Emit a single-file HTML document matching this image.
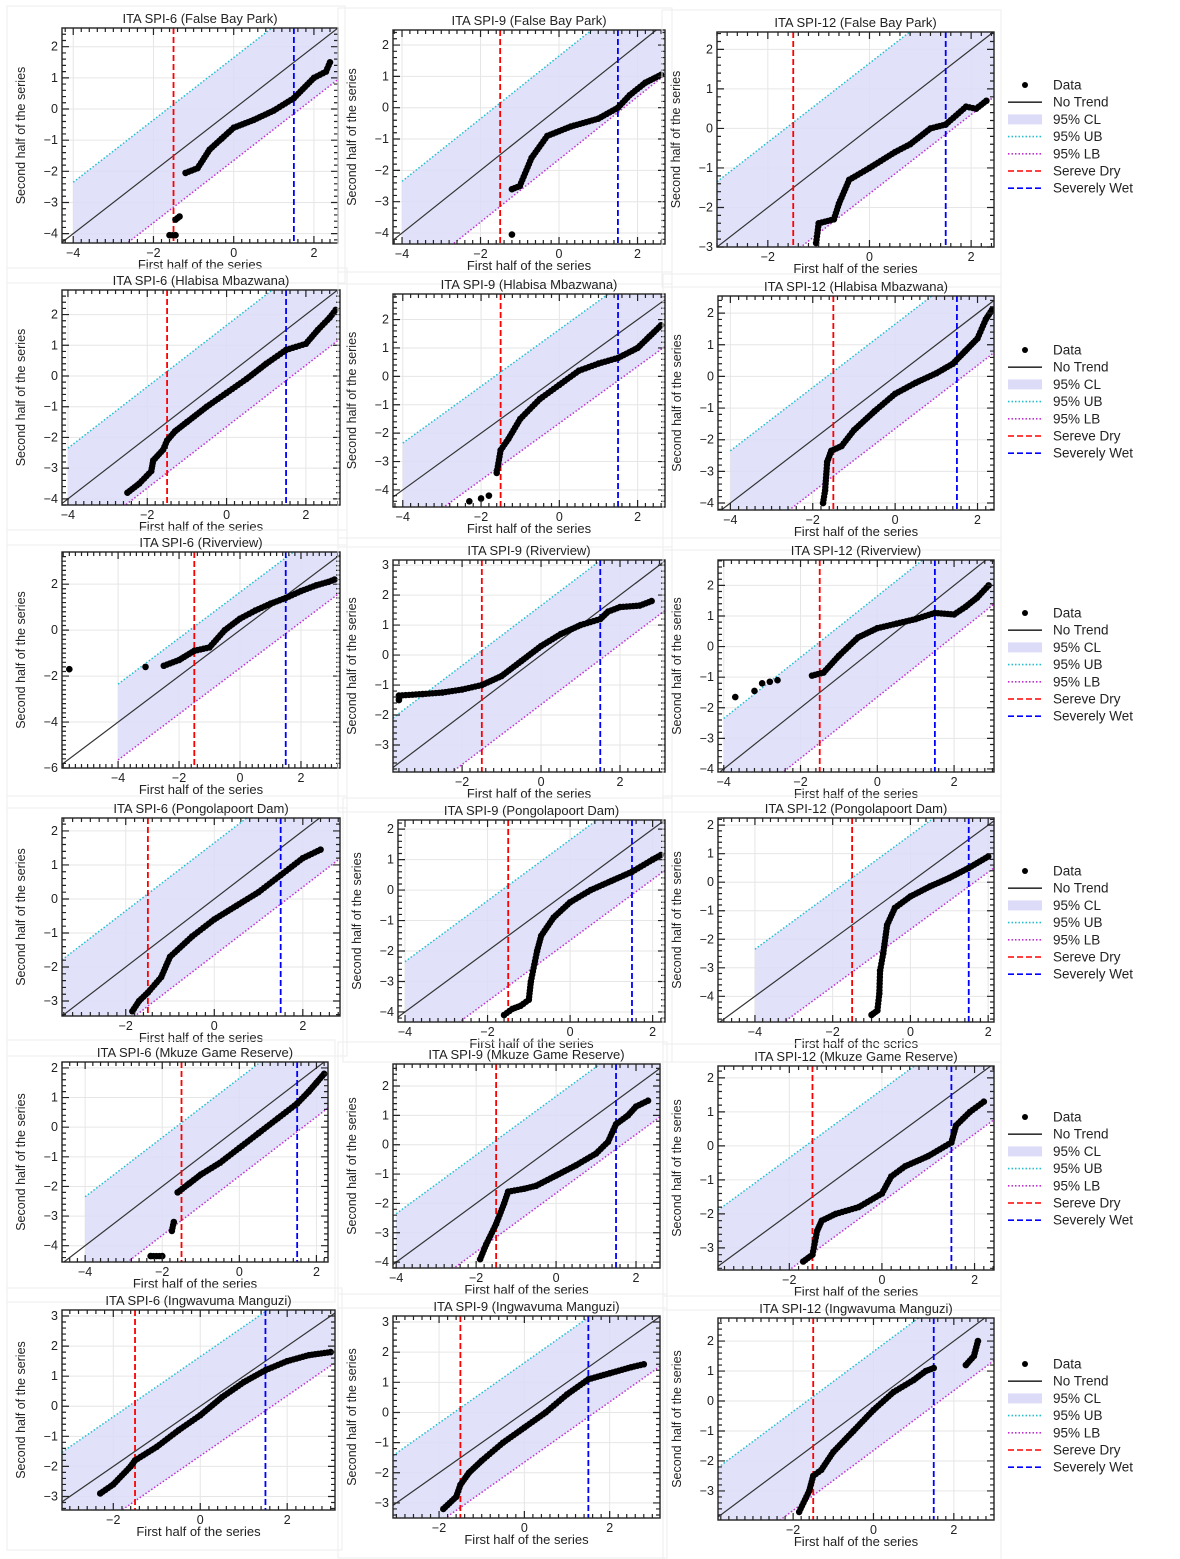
<!DOCTYPE html>
<html><head><meta charset="utf-8"><style>
body{margin:0;background:#fff}
svg{display:block;font-family:"Liberation Sans","DejaVu Sans",sans-serif}
</style></head><body>
<svg id="s" width="1180" height="1559" xmlns="http://www.w3.org/2000/svg"></svg>
<script>
const P=[
{t:"ITA SPI-6 (False Bay Park)",b:[62,28,338,243],x:[-4.28,2.6],y:[-4.3,2.6],c0:[[-1.6,-4.05],[-1.45,-4.05]],d2:[[-1.45,-3.55],[-1.35,-3.45]],c:[[-1.2,-2.05],[-0.9,-1.9],[-0.6,-1.3],[-0.3,-0.95],[0,-0.6],[0.5,-0.35],[1,-0.05],[1.5,0.35],[2,1.0],[2.3,1.2],[2.4,1.5]]},
{t:"ITA SPI-9 (False Bay Park)",b:[393,30,665,244],x:[-4.23,2.7],y:[-4.35,2.48],d:[[-1.2,-4.05]],c:[[-1.2,-2.6],[-1,-2.5],[-0.7,-1.6],[-0.3,-0.9],[0.3,-0.6],[1,-0.35],[1.5,0],[1.8,0.4],[2.2,0.8],[2.6,1.05]]},
{t:"ITA SPI-12 (False Bay Park)",b:[717,32,994,247],x:[-3,2.45],y:[-3,2.44],c:[[-1.05,-2.9],[-1,-2.4],[-0.7,-2.3],[-0.6,-1.9],[-0.4,-1.3],[0,-1.0],[0.5,-0.6],[0.8,-0.4],[1.2,0],[1.5,0.1],[1.9,0.55],[2.1,0.5],[2.3,0.7]],L:85},
{t:"ITA SPI-6 (Hlabisa Mbazwana)",b:[62,290,340,505],x:[-4.15,2.86],y:[-4.2,2.8],c:[[-2.5,-3.8],[-2.2,-3.5],[-1.9,-3.1],[-1.85,-2.75],[-1.6,-2.4],[-1.5,-2.1],[-1.3,-1.8],[-1,-1.5],[-0.5,-1.0],[0,-0.55],[0.5,-0.1],[1,0.4],[1.5,0.85],[2,1.05],[2.3,1.5],[2.6,1.9],[2.75,2.15]]},
{t:"ITA SPI-9 (Hlabisa Mbazwana)",b:[393,294,665,507],x:[-4.25,2.7],y:[-4.6,2.9],d:[[-2.3,-4.4],[-2.0,-4.3],[-1.8,-4.2]],c:[[-1.6,-3.4],[-1.5,-2.6],[-1.3,-2.2],[-1,-1.5],[-0.5,-0.8],[0,-0.3],[0.5,0.2],[1,0.45],[1.5,0.65],[2,1.0],[2.3,1.4],[2.6,1.8]]},
{t:"ITA SPI-12 (Hlabisa Mbazwana)",b:[718,296,994,510],x:[-4.3,2.4],y:[-4.22,2.54],c:[[-1.75,-4.0],[-1.7,-3.6],[-1.65,-2.7],[-1.55,-2.35],[-1.3,-2.2],[-1,-1.7],[-0.5,-1.1],[0,-0.55],[0.5,-0.2],[1,0.1],[1.4,0.4],[1.7,0.8],[2,1.2],[2.2,1.8],[2.35,2.1]],L:350},
{t:"ITA SPI-6 (Riverview)",b:[62,552,340,768],x:[-5.84,3.28],y:[-6,3.4],d:[[-5.6,-1.7],[-3.1,-1.6]],c:[[-2.5,-1.55],[-2,-1.3],[-1.5,-0.9],[-1,-0.75],[-0.5,0],[0,0.5],[0.5,0.85],[1,1.15],[1.5,1.4],[2,1.7],[2.5,1.95],[2.9,2.1],[3.1,2.2]],xt:2,yt:2},
{t:"ITA SPI-9 (Riverview)",b:[393,560,665,772],x:[-3.75,3.14],y:[-3.9,3.17],c:[[-3.6,-1.5],[-3.6,-1.35],[-3,-1.3],[-2.5,-1.25],[-2,-1.15],[-1.5,-1.0],[-1,-0.7],[-0.5,-0.2],[0,0.3],[0.5,0.7],[1,1.0],[1.5,1.2],[1.7,1.45],[2,1.6],[2.5,1.65],[2.8,1.8]]},
{t:"ITA SPI-12 (Riverview)",b:[718,560,994,772],x:[-4.15,3.04],y:[-4.1,2.83],d:[[-3.7,-1.65],[-3.2,-1.45],[-3.0,-1.2],[-2.8,-1.15],[-2.6,-1.1]],c2:[[-1.7,-0.95],[-1.4,-0.85],[-1,-0.3],[-0.5,0.3],[0,0.6],[0.5,0.75],[1,0.9],[1.5,1.1],[2,1.05],[2.3,1.3],[2.6,1.6],[2.9,2.0]],L:613},
{t:"ITA SPI-6 (Pongolapoort Dam)",b:[62,818,340,1016],x:[-3.44,2.84],y:[-3.44,2.38],c:[[-1.85,-3.3],[-1.7,-3.0],[-1.5,-2.75],[-1.2,-2.3],[-1,-1.7],[-0.5,-1.1],[0,-0.6],[0.5,-0.2],[1,0.2],[1.5,0.7],[2,1.2],[2.4,1.45]]},
{t:"ITA SPI-9 (Pongolapoort Dam)",b:[398,820,665,1022],x:[-4.17,2.3],y:[-4.33,2.3],c:[[-1.6,-4.1],[-1.4,-3.9],[-1.2,-3.8],[-1.0,-3.6],[-0.95,-3.0],[-0.8,-2.0],[-0.7,-1.5],[-0.4,-0.9],[0,-0.4],[0.5,0],[1,0.3],[1.5,0.6],[2,1.0],[2.2,1.15]]},
{t:"ITA SPI-12 (Pongolapoort Dam)",b:[718,818,994,1022],x:[-4.95,2.15],y:[-4.9,2.25],c:[[-1.0,-4.65],[-0.85,-4.5],[-0.8,-3.9],[-0.78,-3.1],[-0.7,-2.5],[-0.6,-1.5],[-0.4,-0.9],[0,-0.5],[0.5,-0.15],[1,0.15],[1.5,0.5],[2,0.9]],L:871},
{t:"ITA SPI-6 (Mkuze Game Reserve)",b:[62,1062,328,1262],x:[-4.6,2.3],y:[-4.55,2.2],c0:[[-2.3,-4.35],[-2,-4.35]],c:[[-1.75,-3.5],[-1.7,-3.2]],c2:[[-1.6,-2.2],[-1.3,-1.9],[-1,-1.6],[-0.5,-1.2],[0,-0.7],[0.5,-0.2],[1,0.3],[1.5,0.8],[1.8,1.2],[2,1.5],[2.2,1.8]]},
{t:"ITA SPI-9 (Mkuze Game Reserve)",b:[393,1064,660,1268],x:[-4.08,2.6],y:[-4.2,2.75],c:[[-1.9,-3.9],[-1.75,-3.4],[-1.5,-2.7],[-1.3,-2.0],[-1.2,-1.6],[-0.8,-1.5],[-0.5,-1.4],[0,-1.05],[0.5,-0.7],[1,-0.3],[1.3,0.1],[1.5,0.7],[1.8,1.0],[2,1.3],[2.3,1.5]]},
{t:"ITA SPI-12 (Mkuze Game Reserve)",b:[718,1066,994,1270],x:[-3.54,2.42],y:[-3.65,2.35],c:[[-1.7,-3.4],[-1.5,-3.2],[-1.4,-2.5],[-1.3,-2.2],[-1,-2.0],[-0.5,-1.8],[0,-1.4],[0.2,-0.9],[0.5,-0.6],[1,-0.3],[1.5,0.1],[1.6,0.6],[1.9,1.0],[2.2,1.3]],L:1117},
{t:"ITA SPI-6 (Ingwavuma Manguzi)",b:[62,1310,335,1510],x:[-3.18,3.1],y:[-3.45,3.2],c:[[-2.3,-2.9],[-2,-2.6],[-1.6,-2.0],[-1.5,-1.8],[-1,-1.35],[-0.5,-0.8],[0,-0.3],[0.5,0.3],[1,0.8],[1.5,1.2],[2,1.5],[2.5,1.7],[3,1.8]]},
{t:"ITA SPI-9 (Ingwavuma Manguzi)",b:[393,1316,660,1518],x:[-3.08,3.18],y:[-3.5,3.2],c:[[-1.9,-3.2],[-1.6,-2.8],[-1.5,-2.4],[-1.3,-2.0],[-1,-1.6],[-0.5,-1.0],[0,-0.5],[0.5,0],[1,0.6],[1.5,1.1],[2,1.3],[2.5,1.5],[2.8,1.6]]},
{t:"ITA SPI-12 (Ingwavuma Manguzi)",b:[718,1318,994,1520],x:[-3.87,3.0],y:[-3.97,2.77],c:[[-1.85,-3.7],[-1.6,-3.0],[-1.5,-2.5],[-1.3,-2.3],[-1,-1.7],[-0.5,-1.0],[0,-0.3],[0.5,0.3],[1,0.7],[1.3,1.0],[1.5,1.1]],c2:[[2.3,1.2],[2.5,1.5],[2.6,2.0]],L:1364}
];
let o='';let cid=0;
const f=v=>(v<0?'\u2212':'')+Math.abs(v);
for(const p of P){
 const [L,T,R,B]=p.b;const [x0,x1]=p.x,[y0,y1]=p.y;
 const X=v=>L+(v-x0)/(x1-x0)*(R-L),Y=v=>B-(v-y0)/(y1-y0)*(B-T);
 cid++;o+=`<clipPath id="c${cid}"><rect x="${L}" y="${T}" width="${R-L}" height="${B-T}"/></clipPath>`;
 o+=`<rect x="${L-55}" y="${T-22}" width="${R-L+62}" height="${B-T+62}" fill="none" stroke="#eee"/>`;
 const xs=p.xt||2,ys=p.yt||1;
 let g=`<g clip-path="url(#c${cid})">`;
 for(let v=Math.ceil(x0/xs)*xs;v<=x1;v+=xs)g+=`<line x1="${X(v)}" x2="${X(v)}" y1="${T}" y2="${B}" stroke="#e6e6e6"/>`;
 for(let v=Math.ceil(y0/ys)*ys;v<=y1;v+=ys)g+=`<line y1="${Y(v)}" y2="${Y(v)}" x1="${L}" x2="${R}" stroke="#e6e6e6"/>`;
 const a=Math.max(-4,x0),w=1.65,e=x1+1;
 g+=`<polygon points="${X(a)},${Y(a-w)} ${X(e)},${Y(e-w)} ${X(e)},${Y(e+w)} ${X(a)},${Y(a+w)}" fill="#dcdcf8" fill-opacity="0.85"/>`;
 g+=`<line x1="${X(a)}" y1="${Y(a+w)}" x2="${X(e)}" y2="${Y(e+w)}" stroke="#20c0d0" stroke-width="1.5" stroke-dasharray="1.5,2"/>`;
 g+=`<line x1="${X(a)}" y1="${Y(a-w)}" x2="${X(e)}" y2="${Y(e-w)}" stroke="#c030d0" stroke-width="1.5" stroke-dasharray="1.5,2"/>`;
 g+=`<line x1="${X(x0-1)}" y1="${Y(x0-1)}" x2="${X(x1+1)}" y2="${Y(x1+1)}" stroke="#333" stroke-width="1.2"/>`;
 g+=`<line x1="${X(-1.5)}" x2="${X(-1.5)}" y1="${T}" y2="${B}" stroke="#f00" stroke-width="1.8" stroke-dasharray="6,3"/>`;
 g+=`<line x1="${X(1.5)}" x2="${X(1.5)}" y1="${T}" y2="${B}" stroke="#00f" stroke-width="1.8" stroke-dasharray="6,3"/>`;
 const dots=pts=>{for(let i=0;i<pts.length;i++){g+=`<circle cx="${X(pts[i][0])}" cy="${Y(pts[i][1])}" r="3.3"/>`;if(i<pts.length-1){const ax=X(pts[i][0]),ay=Y(pts[i][1]),bx=X(pts[i+1][0]),by=Y(pts[i+1][1]);const n=Math.ceil(Math.hypot(bx-ax,by-ay)/3.5);for(let k=1;k<n;k++)g+=`<circle cx="${ax+(bx-ax)*k/n}" cy="${ay+(by-ay)*k/n}" r="3.2"/>`;}}};
 if(p.d)for(const q of p.d)g+=`<circle cx="${X(q[0])}" cy="${Y(q[1])}" r="3.3"/>`;
 for(const k of ['c0','d2','c','c2'])if(p[k])dots(p[k]);
 g+='</g>';o+=g;
 o+=`<rect x="${L}" y="${T}" width="${R-L}" height="${B-T}" fill="none" stroke="#222" stroke-width="1.4"/>`;
 let tk='';
 for(let v=Math.ceil(x0/0.2-1e-6)*0.2;v<=x1;v+=0.2){const px=X(v);const maj=Math.abs(v/xs-Math.round(v/xs))<1e-3;const l=maj?7:4;tk+=`M${px},${B}v-${l}M${px},${T}v${l}`;if(maj)o+=`<text x="${px}" y="${B+14}" font-size="12.5" text-anchor="middle" fill="#222">${f(Math.round(v))}</text>`;}
 for(let v=Math.ceil(y0/0.2-1e-6)*0.2;v<=y1;v+=0.2){const py=Y(v);const maj=Math.abs(v/ys-Math.round(v/ys))<1e-3;const l=maj?7:4;tk+=`M${L},${py}h${l}M${R},${py}h-${l}`;if(maj)o+=`<text x="${L-4}" y="${py+4}" font-size="12.5" text-anchor="end" fill="#222">${f(Math.round(v))}</text>`;}
 o+=`<path d="${tk}" stroke="#222" stroke-width="1.2"/>`;
 o+=`<text x="${(L+R)/2}" y="${T-5}" font-size="13" text-anchor="middle" fill="#222">${p.t}</text>`;
 o+=`<text x="${(L+R)/2}" y="${B+26}" font-size="13" text-anchor="middle" fill="#222">First half of the series</text>`;
 const cy=(T+B)/2;o+=`<text transform="translate(${L-37},${cy}) rotate(-90)" font-size="12.5" text-anchor="middle" fill="#222">Second half of the series</text>`;
 if(p.L){let y=p.L;const items=[['Data','dot'],['No Trend','#333'],['95% CL','band'],['95% UB','ub'],['95% LB','lb'],['Sereve Dry','dry'],['Severely Wet','wet']];
  for(const [n,k] of items){const sx=1008,ex=1042;
   if(k=='dot')o+=`<circle cx="${(sx+ex)/2}" cy="${y}" r="3"/>`;
   else if(k=='band')o+=`<rect x="${sx}" y="${y-5}" width="${ex-sx}" height="10" fill="#dcdcf8"/>`;
   else{const st={'#333':['#333',''],ub:['#20c0d0','1.5,2'],lb:['#c030d0','1.5,2'],dry:['#f00','6,3'],wet:['#00f','6,3']}[k];o+=`<line x1="${sx}" x2="${ex}" y1="${y}" y2="${y}" stroke="${st[0]}" stroke-width="1.6" stroke-dasharray="${st[1]}"/>`;}
   o+=`<text x="1053" y="${y+4.5}" font-size="13.5" fill="#222">${n}</text>`;y+=17.2;}
 }
}
document.getElementById('s').innerHTML=o;
</script>
</body></html>
